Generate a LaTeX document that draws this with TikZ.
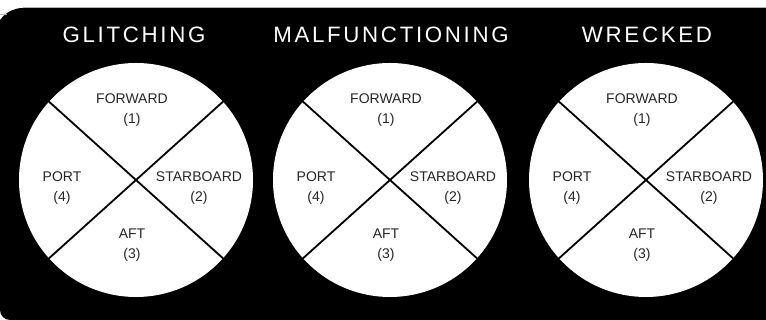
\documentclass[tikz,border=0pt]{standalone}
\usepackage{fontspec}
\setmainfont{Liberation Sans}
\newfontfamily\titlefont[LetterSpace=12]{Liberation Sans}

\begin{document}
\begin{tikzpicture}[x=1pt,y=1pt,
  panel/.style={circle,fill=white,minimum size=234pt,inner sep=0pt},
  head/.style={text=white,inner sep=0pt,font=\titlefont\fontsize{22.3}{24}\selectfont},
  sector/.style={align=center,inner sep=0pt,text=black!85,font=\fontsize{14}{19.5}\selectfont},
  split/.style={line width=1.8pt,line cap=butt}]
 \useasboundingbox (0,0) rectangle (766,320);
 \fill[white] (0,0) rectangle (766,320);
 % black card
 \fill[black] (766,0) -- (10,0) arc (270:180:10) -- (0,150) -- (-5,150) -- (-5,284) arc (180:90:28) -- (766,312) -- cycle;
 \draw[gray!60,line width=0.9pt] (23,312.4) -- (766,312.4);
 \draw[gray!60,line width=0.9pt] (0,305.5) -- (7,305.5);

 \foreach \cx/\tx/\id/\ttl in {136/134/glitch/GLITCHING,390/391/malf/MALFUNCTIONING,646/647/wreck/WRECKED}{
  \node[panel] (\id) at (\cx,140) {};
  \node[head] (\id-head) at (\tx,285) {\ttl};
  \draw[split] (\id.138) -- (\id.318);
  \draw[split] (\id.42) -- (\id.222);
  \node[sector] (\id-fwd) at ([shift={(-4,70)}]\id.center) {FORWARD\\(1)};
  \node[sector] (\id-stb) at ([shift={(63,-8)}]\id.center) {STARBOARD\\(2)};
  \node[sector] (\id-aft) at ([shift={(-4,-65)}]\id.center) {AFT\\(3)};
  \node[sector] (\id-port) at ([shift={(-74,-8)}]\id.center) {PORT\\(4)};
 }
\end{tikzpicture}
\end{document}
